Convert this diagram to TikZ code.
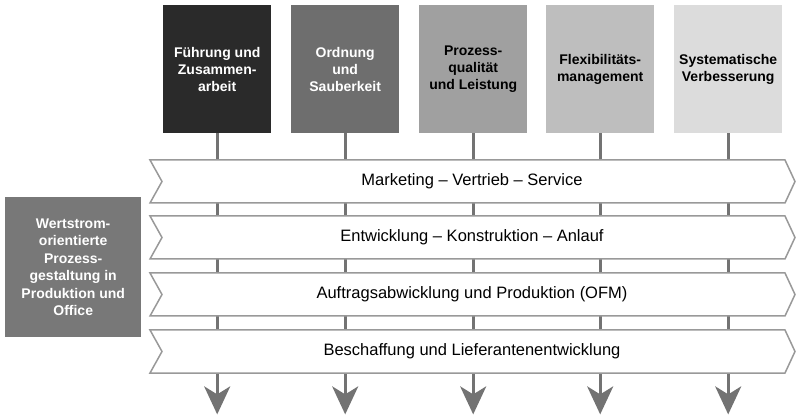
\documentclass[tikz,border=0pt]{standalone}
\usepackage{fontspec}
\setmainfont{Liberation Sans}
\usetikzlibrary{arrows.meta}
\begin{document}
\begin{tikzpicture}[x=1pt,y=-1pt,
  topbox/.style={minimum width=108pt,minimum height=128pt,anchor=north west,font=\bfseries\fontsize{14}{17}\selectfont,align=center,inner sep=0pt},
  band/.style={draw=black!40,line width=1.5pt,fill=white},
  bandtext/.style={font=\fontsize{16.5}{19}\selectfont},
  vline/.style={draw=black!55,line width=3pt},
  varrow/.style={vline,-{Stealth[length=28pt,width=26pt,inset=8pt]}}]
\useasboundingbox (0,0) rectangle (800,419);
\definecolor{c1}{HTML}{2A2A2A}\definecolor{c2}{HTML}{6E6E6E}\definecolor{c3}{HTML}{A0A0A0}
\definecolor{c4}{HTML}{BEBEBE}\definecolor{c5}{HTML}{DCDCDC}
\node[topbox,fill=c1,text=white] (t1) at (163,5) {Führung und\\Zusammen-\\arbeit};
\node[topbox,fill=c2,text=white] (t2) at (291,5) {Ordnung\\und\\Sauberkeit};
\node[topbox,fill=c3,text=black] (t3) at (419,5) {Prozess-\\qualität\\und Leistung};
\node[topbox,fill=c4,text=black] (t4) at (546,5) {Flexibilitäts-\\management};
\node[topbox,fill=c5,text=black] (t5) at (674,5) {Systematische\\Verbesserung};
\foreach \i in {1,...,5} {
  \coordinate (e\i) at ([yshift=-281pt]t\i.south);
  \draw[varrow] (t\i.south) -- (e\i);
}
\foreach \y/\n in {160/1,216/2,273/3,330/4} {
  \draw[band] (150,\y) -- (785,\y) -- (795,\y+21.5) -- (785,\y+43) -- (150,\y+43) -- (162,\y+21.5) -- cycle;
  \coordinate (b\n) at (472,\y+21.5);
}
\node[bandtext] (m1) at (b1) {Marketing -- Vertrieb -- Service};
\node[bandtext] (m2) at (b2) {Entwicklung -- Konstruktion -- Anlauf};
\node[bandtext] (m3) at (b3) {Auftragsabwicklung und Produktion (OFM)};
\node[bandtext] (m4) at (b4) {Beschaffung und Lieferantenentwicklung};
\node[fill=black!53,text=white,font=\bfseries\fontsize{14}{17.5}\selectfont,align=center,minimum width=136pt,minimum height=140pt,inner sep=0pt,anchor=north west] (l) at (5,197) {Wertstrom-\\orientierte\\Prozess-\\gestaltung in\\Produktion und\\Office};
\end{tikzpicture}
\end{document}
